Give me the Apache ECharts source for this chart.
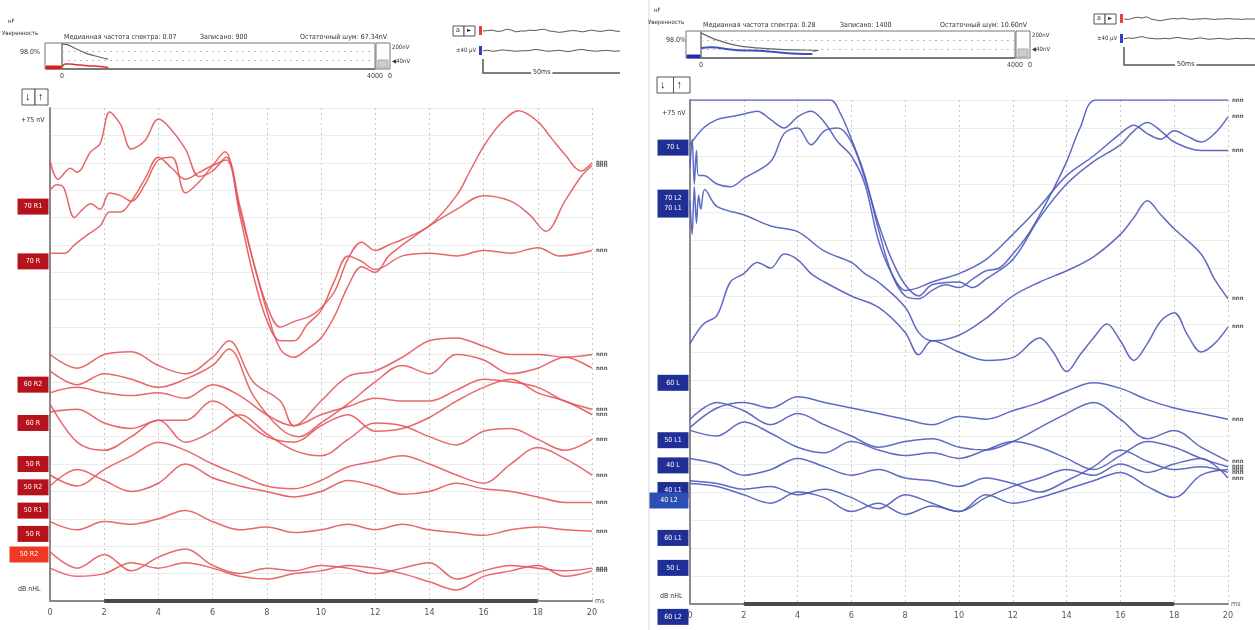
<!DOCTYPE html>
<html>
<head>
<meta charset="utf-8">
<script src="https://cdn.jsdelivr.net/npm/echarts@6.0.0/dist/echarts.min.js"></script>
<style>
html,body{margin:0;padding:0;background:#fff}
#chart{width:1255px;height:630px}
</style>
</head>
<body>
<div id="chart"></div>
<script>
// ABR recordings, right ear (red) and left ear (blue).
// Time in ms, amplitude in grid rows (each trace is drawn at its own offset).
const timeTicks = [0, 2, 4, 6, 8, 10, 12, 14, 16, 18, 20];

// ---- right ear traces ----
const r70a = [[0,16.1],[0.3,15.4],[0.75,15.8],[1,15.65],[1.5,16.4],[1.85,16.7],[2.2,17.85],[2.6,17.4],[3,16.5],[3.5,16.8],[4,17.6],[4.4,17.3],[5,16.5],[5.5,15.5],[6,15.7],[6.5,16.2],[7,14.45],[7.5,12.4],[8,10.8],[8.5,10.0],[9,10.2],[9.6,10.4],[10,10.7],[10.5,11.3],[11,12.5],[11.5,13.1],[12,12.8],[12.5,13.0],[13,13.2],[14,13.7],[15,14.8],[15.5,15.7],[16,16.6],[16.6,17.4],[17.3,17.9],[18,17.5],[18.5,16.9],[19,16.3],[19.6,15.7],[20,16.0]];
const r70b = [[0,15.0],[0.25,15.2],[0.5,15.1],[0.9,14.0],[1.2,14.3],[1.5,14.5],[1.85,14.3],[2.2,14.9],[2.6,14.8],[3,14.6],[3.5,15.2],[4,16.1],[4.5,16.2],[5,14.9],[5.5,15.3],[6,15.9],[6.45,16.4],[7,14.3],[7.5,12.4],[8,10.6],[8.5,9.2],[9,8.9],[9.5,9.2],[10,9.6],[10.5,10.4],[11,11.5],[11.5,12.2],[12,12.0],[12.5,12.6],[13,13.0],[14,13.7],[15,14.3],[16,14.8],[17,14.6],[17.7,14.1],[18.3,13.5],[19,14.6],[19.6,15.5],[20,15.9]];
const r70c = [[0,12.7],[0.55,12.7],[0.9,13.0],[1.35,13.35],[1.85,13.7],[2.2,14.2],[2.6,14.2],[3,14.6],[3.5,15.4],[4,16.2],[4.5,15.8],[5,15.4],[5.5,15.65],[6,15.9],[6.5,16.1],[7,14.1],[7.5,11.9],[8,10.25],[8.5,9.5],[9,9.5],[9.5,10.1],[10,10.6],[10.5,11.7],[11,12.6],[11.5,12.4],[12,12.1],[13,12.6],[14,12.7],[15,12.6],[16,12.8],[17,12.7],[18,12.9],[18.8,12.6],[20,12.8]];
const r60a = [[0,9.0],[1,8.5],[2,9.0],[3,9.1],[4,8.6],[5,8.3],[6,8.9],[6.6,9.5],[7.5,8.0],[8.5,7.3],[9,6.4],[10,7.3],[11,8.2],[12,8.4],[13,8.9],[14,9.5],[15,9.6],[16,9.3],[17,9.0],[18,9.0],[19,8.9],[20,9.0]];
const r60b = [[0,8.4],[1,7.9],[2,8.3],[3,8.1],[4,7.8],[5,8.1],[6,8.6],[6.6,9.2],[7.5,7.5],[8.5,6.3],[9.2,6.0],[10,6.5],[11,7.2],[12,8.0],[13,8.6],[14,8.3],[15,9.0],[16,8.8],[17,8.3],[18,8.5],[19,8.9],[20,8.5]];
const r60c = [[0,7.6],[1,7.8],[2,7.6],[3,7.5],[4,7.6],[5,7.4],[6,7.9],[7,7.5],[8,6.8],[9,6.4],[10,6.8],[11,7.1],[12,7.4],[13,7.3],[14,7.3],[15,7.7],[16,8.1],[17,8.0],[18,7.8],[19,7.3],[20,7.0]];
const r60d = [[0,7.2],[1,5.8],[2,5.5],[3,6.0],[4,6.6],[5,6.6],[6,7.3],[7,6.7],[8,6.0],[9,5.8],[10,6.4],[11,6.8],[12,6.2],[13,6.3],[14,6.7],[15,7.3],[16,7.8],[17,8.1],[18,7.6],[19,7.3],[20,6.8]];
const r60e = [[0,6.9],[1,7.0],[2,6.5],[3,6.3],[4,6.6],[5,5.8],[6,6.2],[7,6.8],[8,6.1],[9,5.5],[10,5.3],[11,5.9],[12,6.5],[13,6.4],[14,6.0],[15,5.7],[16,6.2],[17,6.3],[18,5.9],[19,5.5],[20,5.9]];
const r50a = [[0,4.6],[1,4.2],[2,4.8],[3,5.3],[4,5.8],[5,5.5],[6,5.0],[7,4.6],[8,4.2],[9,4.1],[10,4.4],[11,4.9],[12,5.1],[13,5.3],[14,5.0],[15,4.6],[16,4.3],[17,5.0],[18,5.6],[19,5.2],[20,4.6]];
const r50b = [[0,4.2],[1,4.8],[2,4.4],[3,4.0],[4,4.3],[5,5.0],[6,4.5],[7,4.2],[8,4.0],[9,3.8],[10,4.0],[11,4.4],[12,4.2],[13,3.9],[14,4.0],[15,4.3],[16,4.1],[17,4.0],[18,3.8],[19,3.6],[20,3.6]];
const r50c = [[0,2.9],[1,2.6],[2,2.9],[3,2.8],[4,3.0],[5,3.3],[6,2.9],[7,2.6],[8,2.7],[9,2.5],[10,2.6],[11,2.8],[12,2.6],[13,2.8],[14,2.6],[15,2.5],[16,2.4],[17,2.6],[18,2.7],[19,2.6],[20,2.55]];
const r50d = [[0,1.8],[1,1.2],[2,1.7],[3,1.1],[4,1.6],[5,1.9],[6,1.3],[7,1.0],[8,1.2],[9,1.1],[10,1.3],[11,1.2],[12,1.0],[13,1.2],[14,1.4],[15,0.8],[16,1.1],[17,1.3],[18,1.2],[19,1.1],[20,1.2]];
const r50e = [[0,1.2],[1,0.9],[2,1.0],[3,1.4],[4,1.2],[5,1.4],[6,1.2],[7,0.9],[8,0.8],[9,1.0],[10,1.1],[11,1.3],[12,1.2],[13,1.0],[14,0.7],[15,0.4],[16,0.9],[17,1.1],[18,1.3],[19,0.9],[20,1.1]];

// ---- left ear traces ----
const l70a = [[0,18],[5.2,18],[5.6,17.5],[6,16.6],[6.5,15.3],[7,13.4],[7.5,11.8],[8,11.0],[8.5,10.9],[9,11.2],[9.5,11.4],[10,11.3],[10.5,11.6],[11,11.9],[11.5,12.0],[12,12.5],[12.5,13.1],[13,13.9],[13.5,14.8],[14,15.8],[14.5,17.0],[15.1,18],[20,18]];
const l70b = [[0,16.4],[0.5,17.0],[1,17.3],[1.5,17.4],[2,17.5],[2.5,17.6],[3,17.3],[3.5,17.0],[4,17.4],[4.5,17.6],[5,17.2],[5.5,16.5],[6,16.0],[6.5,15.0],[7,13.0],[7.5,11.8],[8,11.2],[8.5,11.3],[9,11.5],[10,11.8],[11,12.3],[12,13.2],[13,14.2],[14,15.3],[15,16.0],[16,16.8],[16.5,17.1],[17,16.8],[17.5,16.6],[18,16.9],[18.5,16.7],[19,16.5],[19.5,16.8],[20,17.4]];
const l70c = [[0,15.6],[0.08,16.6],[0.16,15.0],[0.24,16.2],[0.32,15.3],[0.5,15.3],[1,15.0],[1.5,14.9],[2,15.2],[3,15.8],[3.5,16.8],[4,17.0],[4.5,16.4],[5,16.9],[5.5,17.0],[6,16.5],[6.5,15.2],[7,13.6],[7.5,12.3],[8,11.4],[8.5,11.0],[9,11.4],[10,11.5],[10.5,11.3],[11,11.6],[12,12.3],[13,13.8],[14,15.0],[15,15.8],[16,16.4],[16.5,16.9],[17,17.2],[17.5,16.9],[18,16.5],[19,16.2],[20,16.2]];
const l70d = [[0,14.4],[0.08,13.2],[0.16,14.9],[0.24,13.6],[0.32,14.6],[0.4,14.1],[0.55,14.8],[1,14.2],[2,13.9],[3,13.5],[4,13.3],[5,12.6],[6,12.2],[6.5,11.8],[7,11.5],[8,10.6],[8.5,9.7],[9,9.4],[10,9.6],[11,10.2],[12,11.0],[13,11.5],[14,11.9],[15,12.4],[16,13.2],[16.5,13.8],[17,14.4],[17.5,13.9],[18,13.4],[19,12.5],[19.5,11.6],[20,10.9]];
const l60a = [[0,9.3],[0.5,10.0],[1,10.3],[1.5,11.5],[2,11.8],[2.5,12.2],[3,12.0],[3.5,12.5],[4,12.3],[4.5,11.8],[5,11.5],[6,11.0],[7,10.6],[8,9.7],[8.5,8.9],[9,9.4],[10,9.0],[11,8.7],[12,8.8],[13,9.5],[13.5,9.0],[14,8.3],[14.5,8.9],[15,9.5],[15.5,10.0],[16,9.4],[16.5,8.7],[17,9.3],[17.5,10.1],[18,10.4],[18.5,9.6],[19,9.0],[19.5,9.3],[20,9.9]];
const l50a = [[0,6.3],[1,7.0],[2,7.2],[3,7.0],[4,7.4],[5,7.2],[6,7.0],[7,6.8],[8,6.6],[9,6.4],[10,6.7],[11,6.6],[12,6.9],[13,7.2],[14,7.6],[15,7.9],[16,7.7],[17,7.3],[18,7.0],[19,6.8],[20,6.6]];
const l50b = [[0,6.6],[1,7.2],[2,6.9],[3,6.4],[4,6.8],[5,6.4],[6,6.0],[7,5.6],[8,5.8],[9,5.9],[10,5.6],[11,5.5],[12,5.8],[13,6.3],[14,6.8],[15,7.2],[16,6.6],[17,5.9],[18,6.2],[19,5.6],[20,5.1]];
const l40a = [[0,6.2],[1,6.0],[2,6.5],[3,6.1],[4,5.6],[5,5.4],[6,5.8],[7,5.5],[8,5.3],[9,5.4],[10,5.2],[11,5.5],[12,5.8],[13,5.6],[14,5.2],[15,4.8],[16,5.3],[17,5.8],[18,5.6],[19,5.2],[20,4.9]];
const l40b = [[0,5.2],[1,5.0],[2,4.6],[3,4.8],[4,5.2],[5,4.9],[6,4.6],[7,4.8],[8,4.5],[9,4.4],[10,4.2],[11,4.5],[12,4.3],[13,4.0],[14,4.4],[15,4.9],[16,5.5],[17,5.1],[18,4.8],[19,4.9],[20,4.7]];
const l40c = [[0,4.4],[1,4.3],[2,4.1],[3,4.2],[4,3.9],[5,4.1],[6,3.8],[7,3.4],[8,3.9],[9,3.6],[10,3.3],[11,3.8],[12,4.2],[13,4.5],[14,4.8],[15,4.6],[16,5.0],[17,4.7],[18,5.0],[19,5.2],[20,4.5]];
const l40d = [[0,4.3],[1,4.2],[2,3.9],[3,3.6],[4,4.0],[5,3.8],[6,3.3],[7,3.6],[8,3.2],[9,3.5],[10,3.3],[11,3.9],[12,3.6],[13,3.8],[14,4.1],[15,4.4],[16,4.7],[17,4.2],[18,3.8],[19,4.6],[20,4.8]];

const rightEarTraces = [r70a, r70b, r70c, r60a, r60b, r60c, r60d, r60e, r50a, r50b, r50c, r50d, r50e];
const leftEarTraces = [l70a, l70b, l70c, l70d, l60a, l50a, l50b, l40a, l40b, l40c, l40d];

// level tags at the start of each recording
const rightEarTags = ['70 R1', '70 R', '60 R2', '60 R', '50 R', '50 R2', '50 R1', '50 R', '50 R2'];
const rightEarTagRows = [14.4, 12.4, 7.9, 6.5, 5.0, 4.15, 3.3, 2.45, 1.7];
const leftEarTags = ['70 L', '70 L2\n70 L1', '60 L', '50 L1', '40 L', '40 L1', '40 L2', '60 L1', '50 L', '60 L2'];
const leftEarTagRows = [16.3, 14.3, 7.9, 5.85, 4.95, 4.07, 3.7, 2.36, 1.29, -0.46];

// averaging progress (records vs. relative level)
const convergeRightGray = [[0,97],[75,93],[165,80],[295,62],[425,50],[590,38]];
const convergeRightRed = [[0,8],[40,19],[100,19],[230,15],[360,12],[480,10],[590,6]];
const convergeLeftGray = [[0,93],[200,67],[500,44],[1000,32],[1500,28],[1420,26]];
const convergeLeftBlue = [[0,37],[120,40],[430,30],[800,26],[1100,18],[1420,15]];

// running EEG monitor samples
const eegA = [3.0,3.05,3.1,2.95,3.0,3.2,3.1,2.9,3.0,3.0,3.1,3.05,3.15,3.2,3.0,2.95,2.85,2.9,3.0,3.05,3.0,2.9,3.0,3.1,3.0,2.95,3.05,3.1,3.0,2.95];
const eegB = [0.8,0.85,0.75,0.8,0.9,0.85,0.8,0.75,0.8,0.8,0.85,0.95,0.9,0.8,0.75,0.8,0.85,0.8,0.7,0.8,0.9,0.95,0.85,0.8,0.75,0.8,0.85,0.8,0.75,0.8];
const eegC = [3.0,2.95,3.1,3.2,3.1,3.25,3.0,2.9,2.8,2.9,3.0,3.05,3.0,3.1,3.0,2.95,3.0,3.0,3.05,3.0,2.95,3.0,3.0,3.05,3.0,3.0,2.95,3.0,3.0,3.0];
const eegD = [0.8,0.9,0.85,0.95,1.05,0.9,0.85,0.8,0.8,0.85,0.8,0.9,0.95,0.85,0.8,0.75,0.85,0.9,0.8,0.75,0.8,0.85,0.8,0.75,0.8,0.85,0.8,0.85,0.8,0.8];

const RED = '#e4575b';
const BLUE = '#4d5bbd';
const FONT = '"Liberation Sans Narrow","DejaVu Sans Condensed",sans-serif';

const chart = echarts.init(document.getElementById('chart'), null, {renderer: 'canvas'});

function mainX(gridIndex) {
  return {
    gridIndex, type: 'value', min: 0, max: 20, interval: 2,
    name: 'ms', nameLocation: 'end', nameGap: 3,
    nameTextStyle: {fontSize: 7, color: '#555', fontFamily: FONT},
    axisLine: {lineStyle: {color: '#8a8a8a', width: 2}},
    axisTick: {show: false},
    axisLabel: {fontSize: 9, color: '#555', margin: 7, fontFamily: FONT},
    splitLine: {show: true, lineStyle: {color: '#c8c8c8', type: [2, 3], width: 1}}
  };
}
function mainY(gridIndex) {
  return {
    gridIndex, type: 'value', min: 0, max: 18, interval: 1,
    axisLine: {show: true, lineStyle: {color: '#8a8a8a', width: 2}},
    axisTick: {show: false},
    axisLabel: {show: false},
    splitLine: {show: true, lineStyle: {color: '#ececec', width: 1}}
  };
}
function traceSeries(data, gridIndex, color) {
  return {
    type: 'line', xAxisIndex: gridIndex, yAxisIndex: gridIndex,
    data, smooth: 0.35, showSymbol: false, symbol: 'none',
    lineStyle: {color, width: 1.5, opacity: 0.9},
    clip: true,
    endLabel: {show: true, formatter: 'nnn', fontSize: 6, color: '#555', distance: 4, fontFamily: FONT, fontWeight: 'bold'},
    animation: false, silent: true
  };
}
function tagSeries(tags, rows, gridIndex, color, specials) {
  return {
    type: 'scatter', xAxisIndex: gridIndex, yAxisIndex: gridIndex, clip: false,
    data: tags.map((t, i) => {
      const sp = specials[i] || {};
      const two = t.indexOf('\n') >= 0;
      return {
        name: t, value: [0, rows[i]],
        symbol: 'rect',
        symbolSize: sp.size || [31, two ? 28 : 16],
        symbolOffset: sp.offset || [-17, 0],
        itemStyle: {color: sp.color || color, opacity: 1},
        label: {show: true, position: 'inside', formatter: '{b}', color: '#fff', fontSize: 7, lineHeight: 10, fontFamily: FONT}
      };
    }),
    z: 5, animation: false, silent: true
  };
}
function windowBar(gridIndex) {
  return {
    type: 'line', xAxisIndex: gridIndex, yAxisIndex: gridIndex, clip: false,
    data: [[2, 0], [18, 0]], symbol: 'none',
    lineStyle: {color: '#4a4a4a', width: 4}, z: 4, animation: false, silent: true
  };
}

const grids = [
  {left: 50, top: 108, width: 542, height: 493},
  {left: 690, top: 100, width: 538, height: 504},
  {left: 62, top: 43, width: 313, height: 26, show: true, borderColor: '#777', borderWidth: 1},
  {left: 701, top: 31, width: 314, height: 27, show: true, borderColor: '#777', borderWidth: 1},
  {left: 483, top: 22, width: 137, height: 36},
  {left: 1124, top: 10, width: 131, height: 36}
];

function headerX(gridIndex) {
  return {gridIndex, type: 'value', min: 0, max: 4000,
    axisLine: {show: true, lineStyle: {color: '#666', width: 1.5}},
    axisTick: {show: false},
    axisLabel: {show: true, fontSize: 7, color: '#444', margin: 4, fontFamily: FONT,
      formatter: v => (v === 0 || v === 4000) ? String(v) : ''},
    splitLine: {show: false}};
}
function headerY(gridIndex) {
  return {gridIndex, type: 'value', min: 0, max: 100, interval: 33.33,
    axisLine: {show: false}, axisTick: {show: false}, axisLabel: {show: false},
    splitLine: {show: true, lineStyle: {color: '#bbb', type: [2, 4]}}};
}
function eegX(gridIndex) {
  return {gridIndex, type: 'value', min: 0, max: 29, show: false};
}
function eegY(gridIndex) {
  return {gridIndex, type: 'value', min: 0, max: 4, show: false};
}
function simpleLine(data, gi, color, width, extra) {
  return Object.assign({type: 'line', xAxisIndex: gi, yAxisIndex: gi, data, symbol: 'none',
    smooth: 0.3, lineStyle: {color, width}, animation: false, silent: true}, extra || {});
}
const idx = a => a.map((v, i) => [i, v]);

const series = [];
rightEarTraces.forEach(d => series.push(traceSeries(d, 0, RED)));
leftEarTraces.forEach(d => series.push(traceSeries(d, 1, BLUE)));
series.push(tagSeries(rightEarTags, rightEarTagRows, 0, '#b5121b', {8: {color: '#ee3a24', size: [39, 16], offset: [-21, 0]}}));
series.push(tagSeries(leftEarTags, leftEarTagRows, 1, '#1f2f95', {6: {color: '#2d4fb5', size: [39, 16], offset: [-21, 0]}}));
series.push(windowBar(0), windowBar(1));
series.push(simpleLine(convergeRightGray, 2, '#666', 1.2));
series.push(simpleLine(convergeRightRed, 2, '#e03030', 1.5));
series.push(simpleLine(convergeLeftGray, 3, '#666', 1.2));
series.push(simpleLine(convergeLeftBlue, 3, '#3f4fc0', 2));
series.push(simpleLine(idx(eegA), 4, '#555', 1, {smooth: false}));
series.push(simpleLine(idx(eegB), 4, '#555', 1, {smooth: false}));
series.push(simpleLine(idx(eegC), 5, '#555', 1, {smooth: false}));
series.push(simpleLine(idx(eegD), 5, '#555', 1, {smooth: false}));

const txt = (x, y, s, size, extra) => Object.assign({type: 'text', x, y, style: {text: s, fontSize: size || 7, fill: '#333', fontFamily: FONT}}, extra || {});
const box = (x, y, w, h, fill, stroke) => ({type: 'rect', shape: {x, y, width: w, height: h}, style: {fill: fill || 'none', stroke: stroke || '#777', lineWidth: 1}});

function panelDecor(o) {
  // o: offsets for one recording panel
  return [
    txt(o.x0 + 8, o.fy, 'нF', 6),
    txt(o.x0 + 2, o.fy + 12, 'Уверенность', 6),
    txt(o.x0 + 20, o.by + 6, o.conf, 7),
    box(o.bx, o.by, o.hx - o.bx, o.bh),
    box(o.bx + 1, o.by + o.bh - 3, o.hx - o.bx - 2, 3, o.mark, o.mark),
    txt(o.hx + 2, o.by - 9, 'Медианная частота спектра: ' + o.median, 7),
    txt(o.rec, o.by - 9, 'Записано: ' + o.records, 7),
    txt(o.noise, o.by - 9, 'Остаточный шум: ' + o.residual, 7),
    box(o.rx, o.by, 14, o.bh),
    box(o.rx + 2, o.by + o.bh - 9, 10, 8, '#ccc', '#aaa'),
    txt(o.rx + 16, o.by + 1, '200nV', 6),
    txt(o.rx + 16, o.by + 15, '◀40nV', 6),
    txt(o.rx + 12, o.by + o.bh + 4, '0', 7),
    // monitor
    box(o.mx - 30, o.my - 5, 11, 10, '#fff', '#555'),
    box(o.mx - 19, o.my - 5, 11, 10, '#fff', '#555'),
    txt(o.mx - 27, o.my - 4, 'a', 7),
    txt(o.mx - 16, o.my - 4, '►', 6),
    {type: 'rect', shape: {x: o.mx - 4, y: o.my - 5, width: 3, height: 9}, style: {fill: '#e84040'}},
    {type: 'rect', shape: {x: o.mx - 4, y: o.my2 - 5, width: 3, height: 9}, style: {fill: '#3040c0'}},
    txt(o.mx - 27, o.my2 - 4, '±40 μV', 6),
    {type: 'polyline', shape: {points: [[o.mx, o.my2 + 8], [o.mx, o.sy], [o.sx2, o.sy]]}, style: {stroke: '#555', lineWidth: 1.5, fill: 'none'}},
    txt(o.sl, o.sy - 4, '50ms', 7, {style: {text: '50ms', fontSize: 7, fill: '#333', fontFamily: FONT, backgroundColor: '#fff', padding: [0, 2]}}),
    // stepping buttons
    box(o.ax, o.ay, o.aw / 2, 16, '#fff', '#555'),
    box(o.ax + o.aw / 2, o.ay, o.aw / 2, 16, '#fff', '#555'),
    txt(o.ax + 3, o.ay + 2, '↓', 10, {style: {text: '↓', fontSize: 11, fill: '#222', fontWeight: 'bold'}}),
    txt(o.ax + o.aw / 2 + 3, o.ay + 2, '↑', 10, {style: {text: '↑', fontSize: 11, fill: '#222', fontWeight: 'bold'}}),
    txt(o.nvx, o.nvy, '+75 nV', 7),
    txt(o.dbx, o.dby, 'dB nHL', 7)
  ];
}

const graphic = [
  {type: 'line', shape: {x1: 649, y1: 0, x2: 649, y2: 630}, style: {stroke: '#d8d8d8', lineWidth: 1}},
  ...panelDecor({x0: 0, fy: 18, conf: '98.0%', bx: 45, by: 43, bh: 26, hx: 62, mark: '#d42020',
    median: '0.07', records: '900', residual: '67.34nV', rec: 200, noise: 300, rx: 376,
    mx: 483, my: 31, my2: 51, sy: 73, sx2: 620, sl: 531, ax: 22, ay: 89, aw: 26,
    nvx: 21, nvy: 117, dbx: 18, dby: 586}),
  ...panelDecor({x0: 646, fy: 7, conf: '98.0%', bx: 686, by: 31, bh: 27, hx: 701, mark: '#2030a0',
    median: '0.28', records: '1400', residual: '10.60nV', rec: 840, noise: 940, rx: 1016,
    mx: 1124, my: 19, my2: 39, sy: 65, sx2: 1255, sl: 1175, ax: 657, ay: 77, aw: 33,
    nvx: 662, nvy: 110, dbx: 660, dby: 593})
];

chart.setOption({
  backgroundColor: '#fff',
  animation: false,
  grid: grids,
  xAxis: [mainX(0), mainX(1), headerX(2), headerX(3), eegX(4), eegX(5)],
  yAxis: [mainY(0), mainY(1), headerY(2), headerY(3), eegY(4), eegY(5)],
  series,
  graphic
});
</script>
</body>
</html>
